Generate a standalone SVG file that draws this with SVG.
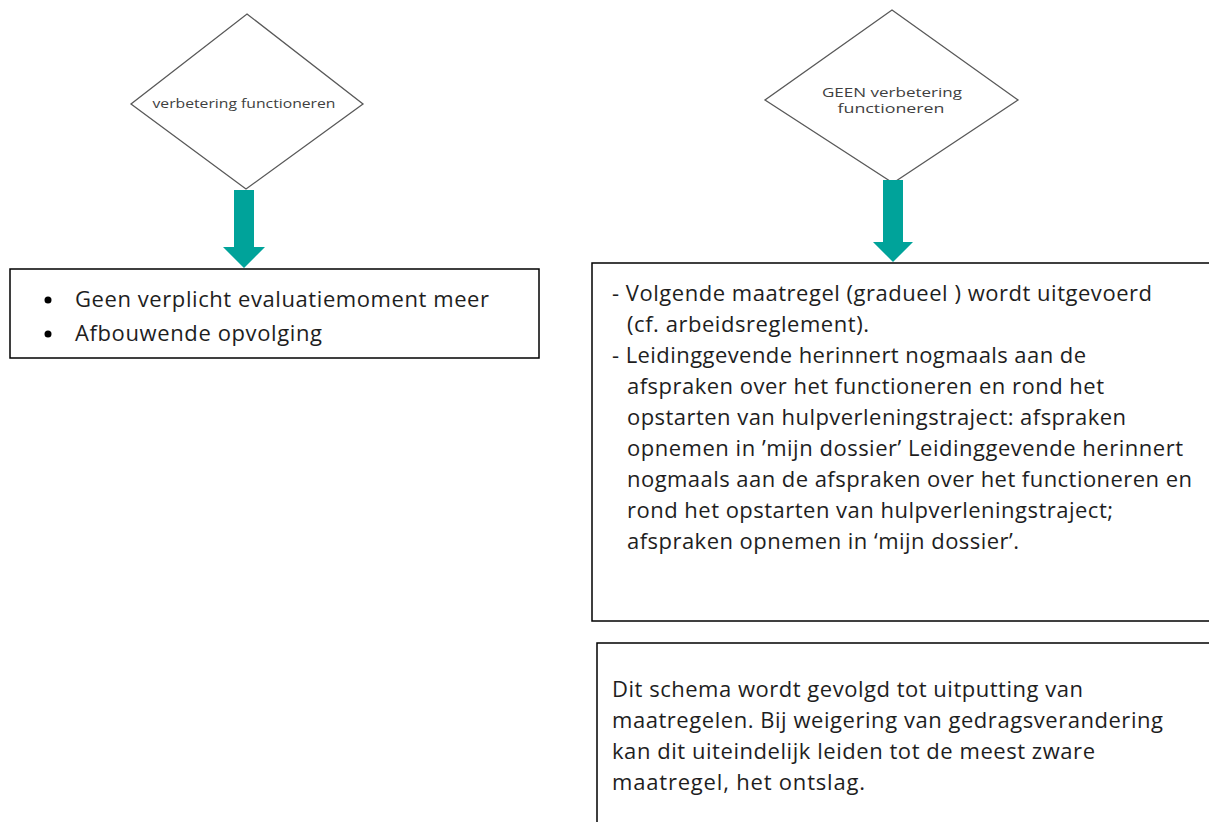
<svg xmlns="http://www.w3.org/2000/svg" width="1209" height="822" viewBox="0 0 1209 822">
<style>
.dia{fill:#fff;stroke:#595959;stroke-width:1.3}
.box{fill:#fff;stroke:#000;stroke-width:1.5}
.arr{fill:#00A39A}
.small{font-family:"Open Sans","Liberation Sans",sans-serif;font-size:13.5px;fill:#404040;text-anchor:middle}
.t{font-family:"Open Sans","Liberation Sans",sans-serif;font-size:22px;fill:#1e1e1e}
</style>
<rect width="1209" height="822" fill="#fff"/>
<g id="decision-left">
<polygon class="dia" points="247,14 363,104 246,189 131,104"/>
<text class="small" x="244" y="108" textLength="183" lengthAdjust="spacingAndGlyphs">verbetering functioneren</text>
</g>
<g id="decision-right">
<polygon class="dia" points="892,10 1018,100 893,183 765,100"/>
<text class="small" x="892" y="97" textLength="140" lengthAdjust="spacingAndGlyphs">GEEN verbetering</text>
<text class="small" x="891" y="113" textLength="107" lengthAdjust="spacingAndGlyphs">functioneren</text>
</g>
<g id="connectors">
<polygon class="arr" points="234,190 254,190 254,247 265,247 244,268 223,247 234,247"/>
<polygon class="arr" points="883,180 903,180 903,242 913,242 893,262 873,242 883,242"/>
</g>
<g id="box-left">
<rect class="box" x="10" y="269" width="529" height="89"/>
<circle cx="48" cy="300" r="3.5" fill="#000"/>
<circle cx="48" cy="334" r="3.5" fill="#000"/>
<text class="t" x="75" y="307" textLength="414">Geen verplicht evaluatiemoment meer</text>
<text class="t" x="75" y="341" textLength="247">Afbouwende opvolging</text>
</g>
<g id="box-right">
<rect class="box" x="592" y="263" width="630" height="358"/>
<text class="t" x="612" y="301" textLength="540">- Volgende maatregel (gradueel ) wordt uitgevoerd</text>
<text class="t" x="627" y="332" textLength="242">(cf. arbeidsreglement).</text>
<text class="t" x="612" y="363" textLength="474">- Leidinggevende herinnert nogmaals aan de</text>
<text class="t" x="627" y="394" textLength="477">afspraken over het functioneren en rond het</text>
<text class="t" x="627" y="425" textLength="499">opstarten van hulpverleningstraject: afspraken</text>
<text class="t" x="627" y="456" textLength="556">opnemen in ’mijn dossier’ Leidinggevende herinnert</text>
<text class="t" x="627" y="487" textLength="565">nogmaals aan de afspraken over het functioneren en</text>
<text class="t" x="627" y="518" textLength="486">rond het opstarten van hulpverleningstraject;</text>
<text class="t" x="627" y="549" textLength="392">afspraken opnemen in ‘mijn dossier’.</text>
</g>
<g id="box-bottom">
<rect class="box" x="597" y="643" width="630" height="200"/>
<text class="t" x="612" y="697" textLength="471">Dit schema wordt gevolgd tot uitputting van</text>
<text class="t" x="612" y="728" textLength="551">maatregelen. Bij weigering van gedragsverandering</text>
<text class="t" x="612" y="759" textLength="483">kan dit uiteindelijk leiden tot de meest zware</text>
<text class="t" x="612" y="790" textLength="253">maatregel, het ontslag.</text>
</g>
</svg>
